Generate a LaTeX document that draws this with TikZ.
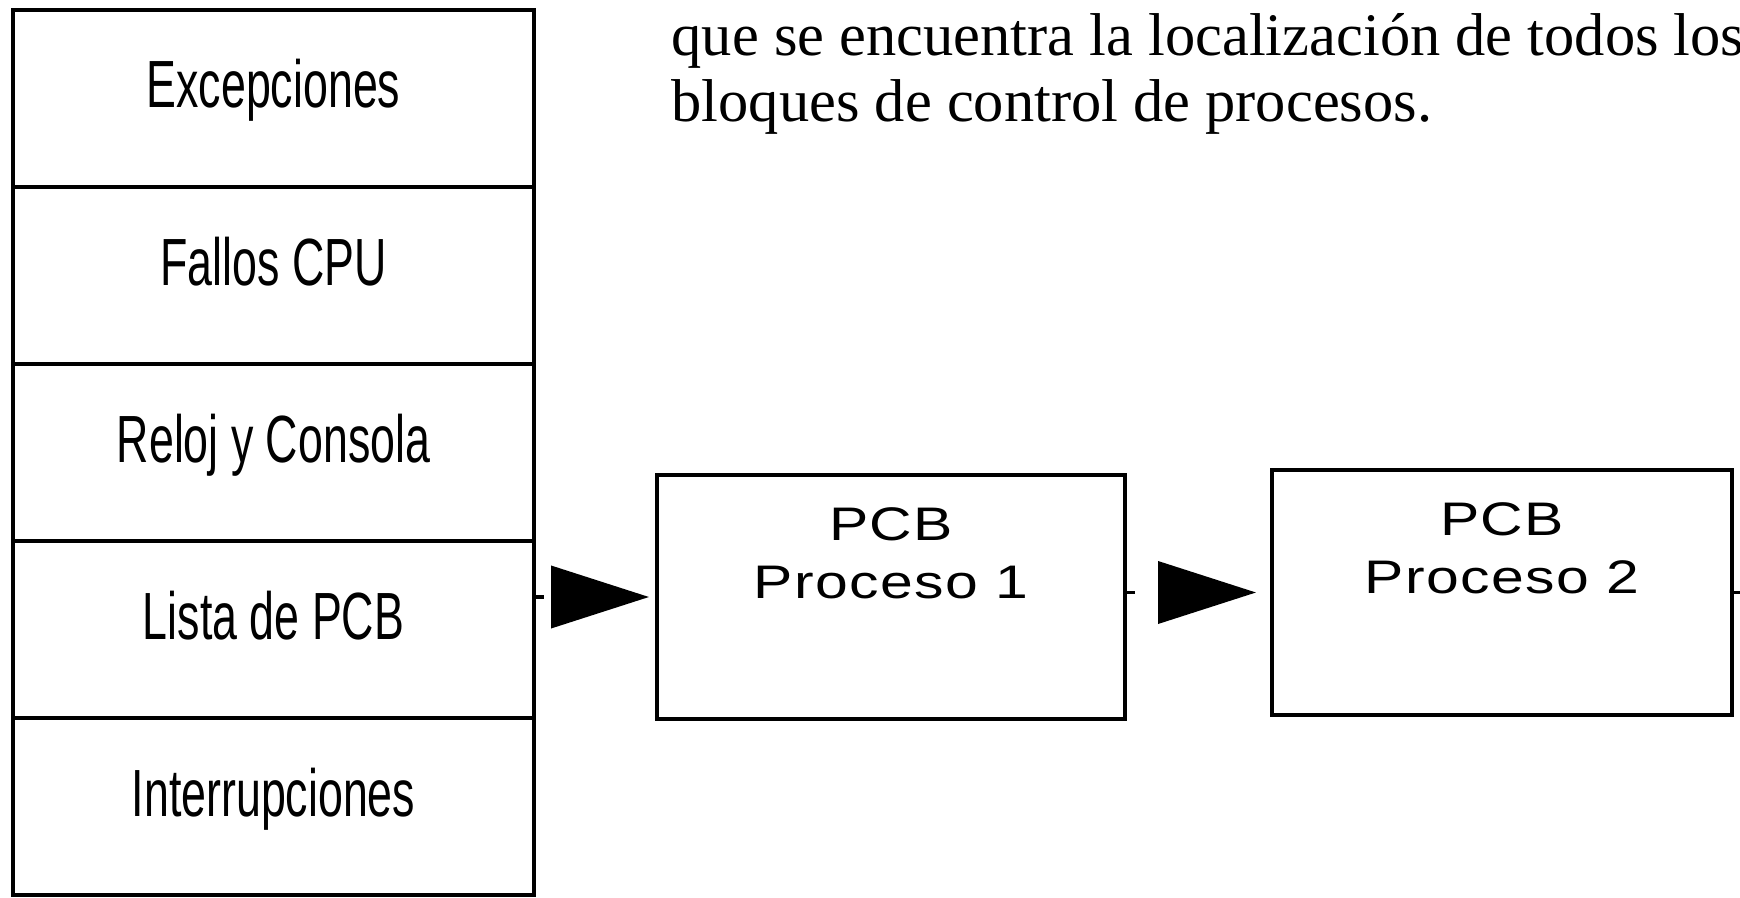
\documentclass[tikz,border=0pt]{standalone}
\usepackage{fontspec}
\setmainfont{Liberation Serif}
\newfontfamily\rowfont[FakeStretch=0.67]{Liberation Sans}
\newfontfamily\pcbfont[FakeStretch=1.25,LetterSpace=3]{Liberation Sans}
\usetikzlibrary{arrows.meta,positioning}

\begin{document}
\begin{tikzpicture}[
    row box/.style={draw, line width=1.1pt, minimum width=5.21cm, minimum height=1.77cm,
    outer sep=0pt, inner sep=0pt, text height=0.5cm, text depth=0.31cm,
    font=\rowfont\fontsize{19pt}{22pt}\selectfont},
    pcb box/.style={draw, line width=1.1pt, minimum width=4.68cm, minimum height=2.445cm, outer sep=0pt},
    pcb text/.style={inner sep=0pt, align=center, font=\pcbfont\fontsize{13.4pt}{16.5pt}\selectfont},
    pointer/.style={line width=1.1pt, -{Triangle[length=0.98cm, width=0.62cm]},
    shorten >=0.16cm, dash pattern=on 0.1cm off 3cm},
    every node/.style={color=black}
    ]
\useasboundingbox (0,0) rectangle (17.4,8.97);
\clip (0,0) rectangle (17.4,8.97);
\node[anchor=base west, inner sep=0pt, align=left, font=\fontsize{17.2pt}{19pt}\selectfont] (desc)
    at (6.71,7.75) {que se encuentra la localización de todos los\\bloques de control de procesos.};
\node[row box] (exc) at (2.735,7.985) {Excepciones};
\node[row box, below=0pt of exc] (fal) {Fallos CPU};
\node[row box, below=0pt of fal] (rel) {Reloj y Consola};
\node[row box, below=0pt of rel] (lis) {Lista de PCB};
\node[row box, below=0pt of lis] (int) {Interrupciones};
\node[pcb box] (p1) at (8.91,3.00) {};
\node[pcb box, minimum width=4.6cm, right=1.47cm of p1, yshift=0.045cm] (p2) {};
\node[pcb text, below=0.32cm of p1.north] (p1t) {PCB\\Proceso 1};
\node[pcb text, below=0.32cm of p2.north] (p2t) {PCB\\Proceso 2};
\coordinate[right=0.2cm of p2.east] (edge);
\draw[pointer, shorten >=0.08cm] (lis.east |- p1.west) -- (p1.west);
\draw[pointer] (p1.east |- p2.west) -- (p2.west);
\draw[line width=1.1pt] (p2.east) -- (edge);
\end{tikzpicture}
\end{document}
